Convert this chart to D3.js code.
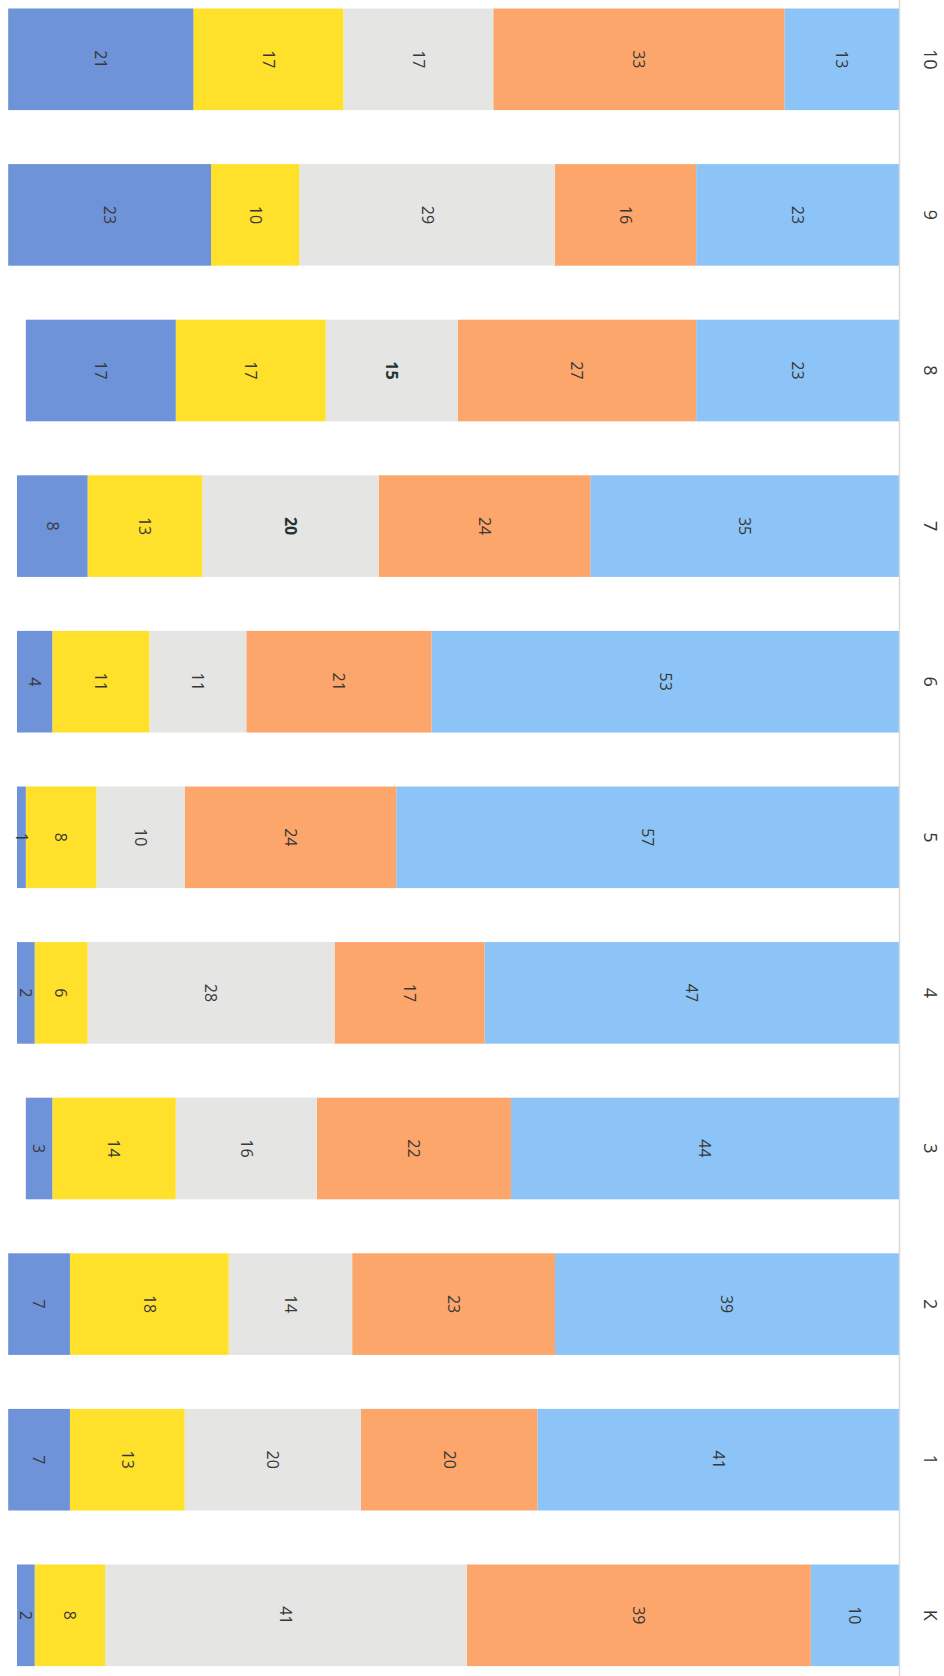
<!DOCTYPE html>
<html>
<head>
<meta charset="utf-8">
<script src="https://cdn.jsdelivr.net/npm/d3@7"></script>
<style>
html,body{margin:0;padding:0;background:#fff;}
svg{display:block;}
</style>
</head>
<body>
<script>
const categories = ["K","1","2","3","4","5","6","7","8","9","10"];
const seriesNames = ["lightBlue","orange","gray","yellow","darkBlue"];
const lightBlue = [10,41,39,44,47,57,53,35,23,23,13];
const orange    = [39,20,23,22,17,24,21,24,27,16,33];
const gray      = [41,20,14,16,28,10,11,20,15,29,17];
const yellow    = [8,13,18,14,6,8,11,13,17,10,17];
const darkBlue  = [2,7,7,3,2,1,4,8,17,23,21];
const boldLabels = [["7","gray"],["8","gray"]];

const W = 944, H = 1676;
const colors = {lightBlue:"#8cc4f7", orange:"#fda66b", gray:"#e5e5e4", yellow:"#ffe12c", darkBlue:"#6e93d9"};
const seriesVals = {lightBlue, orange, gray, yellow, darkBlue};

const rows = categories.map((c,i)=>{
  const o = {cat:c};
  seriesNames.forEach(s=>o[s]=seriesVals[s][i]);
  return o;
});
const stack = d3.stack().keys(seriesNames)(rows);

const svg = d3.select("body").append("svg").attr("width",W).attr("height",H);

const x = d3.scaleLinear().domain([0,100]).range([899,17]);
const step = 155.6;
const y = d3.scaleBand().domain(categories.slice().reverse())
  .range([8.5 - 0.1735*step, 8.5 - 0.1735*step + 11*step])
  .paddingInner(0.347).paddingOuter(0.1735);

const isBold = (d,key)=>boldLabels.some(b=>b[0]===d.data.cat&&b[1]===key);

const g = svg.append("g");
stack.forEach(layer=>{
  const key = layer.key;
  g.selectAll(null).data(layer).enter().append("rect")
    .attr("x", d=>x(d[1]))
    .attr("width", d=>x(d[0])-x(d[1]))
    .attr("y", d=>y(d.data.cat))
    .attr("height", y.bandwidth())
    .attr("fill", colors[key]);
});
stack.forEach(layer=>{
  const key = layer.key;
  g.selectAll(null).data(layer).enter().append("text")
    .attr("transform", d=>`translate(${(x(d[0])+x(d[1]))/2},${y(d.data.cat)+y.bandwidth()/2}) rotate(90)`)
    .attr("text-anchor","middle")
    .attr("dy","0.35em")
    .attr("font-family","'Open Sans', 'DejaVu Sans', sans-serif")
    .attr("font-size",16)
    .attr("font-weight", d=>isBold(d,key)?"bold":"normal")
    .attr("fill", d=>isBold(d,key)?"#223333":"#383838")
    .text(d=>d.data[key]);
});

// axis line
svg.append("line").attr("x1",x(0)+0.5).attr("x2",x(0)+0.5).attr("y1",0).attr("y2",H)
  .attr("stroke","#d9d9d9").attr("stroke-width",1.5);

// category labels
svg.selectAll(".cat").data(categories).enter().append("text")
  .attr("transform", d=>`translate(930,${y(d)+y.bandwidth()/2}) rotate(90)`)
  .attr("text-anchor","middle").attr("dy","0.35em")
  .attr("font-family","'Open Sans', 'DejaVu Sans', sans-serif")
  .attr("font-size",18).attr("fill","#383838")
  .text(d=>d);
</script>
</body>
</html>
